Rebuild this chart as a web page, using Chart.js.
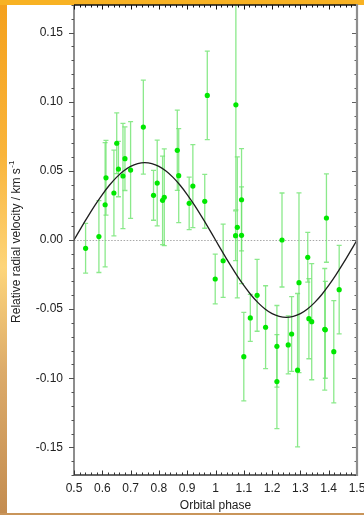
<!DOCTYPE html>
<html>
<head>
<meta charset="utf-8">
<script src="https://cdn.jsdelivr.net/npm/chart.js@4.4.1/dist/chart.umd.min.js"></script>
<style>
  html, body { margin: 0; padding: 0; background: #fff; }
  #wrap { position: relative; width: 364px; height: 515px; overflow: hidden;
          background: linear-gradient(to bottom, #f4a01c 0%, #f9b43a 30%, #fdd57a 52%, #dcab6a 72%, #c38c50 100%); }
  #topband { position: absolute; left: 0; top: 0; width: 364px; height: 5px; background: #f8b223; }
  #panel { position: absolute; left: 7px; top: 5px; width: 357px; height: 508px; background: #fff; }
  #botband { position: absolute; left: 0; top: 513px; width: 364px; height: 2px; background: #c9955a; }
  #chart { position: absolute; left: 0; top: 0; }
</style>
</head>
<body>
<div id="wrap">
  <div id="topband"></div>
  <div id="panel"></div>
  <div id="botband"></div>
  <canvas id="chart" width="364" height="515"></canvas>
</div>
<script>
// ---------- data ----------
const phase = [0.541, 0.588, 0.610, 0.613, 0.641, 0.651, 0.657, 0.673, 0.680, 0.700,
               0.745, 0.781, 0.794, 0.813, 0.819, 0.865, 0.870, 0.907, 0.920, 0.962,
               0.971, 0.999, 1.027, 1.071, 1.072, 1.077, 1.092, 1.092, 1.100, 1.123,
               1.147, 1.177, 1.217, 1.217, 1.235, 1.257, 1.269, 1.290, 1.295, 1.326,
               1.330, 1.340, 1.386, 1.388, 1.392, 1.418, 1.437];
const rv    = [-0.006, 0.0025, 0.0255, 0.045, 0.034, 0.070, 0.0513, 0.0463, 0.0588, 0.0506,
               0.0817, 0.0323, 0.0412, 0.0287, 0.0309, 0.0649, 0.0465, 0.0265, 0.039, 0.028,
               0.1046, -0.0282, -0.015, 0.0031, 0.0978, 0.0092, 0.0291, 0.0034, -0.0844, -0.0564,
               -0.040, -0.0631, -0.0769, -0.1024, 0.000, -0.0759, -0.068, -0.0942, -0.0309, -0.0125,
               -0.0569, -0.0591, -0.0646, -0.065, 0.0159, -0.0808, -0.0359];
const rvErr = [0.018, 0.026, 0.045, 0.027, 0.031, 0.022, 0.020, 0.038, 0.023, 0.035,
               0.034, 0.018, 0.031, 0.032, 0.035, 0.029, 0.034, 0.019, 0.030, 0.0195,
               0.032, 0.018, 0.0265, 0.018, 0.076, 0.051, 0.037, 0.035, 0.032, 0.017,
               0.026, 0.030, 0.0295, 0.034, 0.034, 0.021, 0.027, 0.0555, 0.065, 0.018,
               0.029, 0.042, 0.044, 0.035, 0.032, 0.037, 0.032];

// model orbit curve, read every 0.025 in phase
const curvePhase = [0.5, 0.525, 0.55, 0.575, 0.6, 0.625, 0.65, 0.675, 0.7, 0.725,
                    0.75, 0.775, 0.8, 0.825, 0.85, 0.875, 0.9, 0.925, 0.95, 0.975,
                    1.0, 1.025, 1.05, 1.075, 1.1, 1.125, 1.15, 1.175, 1.2, 1.225,
                    1.25, 1.275, 1.3, 1.325, 1.35, 1.375, 1.4, 1.425, 1.45, 1.475, 1.5];
const curveRv    = [0, 0.0088, 0.0173, 0.0254, 0.0329, 0.0396, 0.0453, 0.0499, 0.0533, 0.0553,
                    0.0560, 0.0553, 0.0533, 0.0499, 0.0453, 0.0396, 0.0329, 0.0254, 0.0173, 0.0088,
                    0, -0.0088, -0.0173, -0.0254, -0.0329, -0.0396, -0.0453, -0.0499, -0.0533, -0.0553,
                    -0.0560, -0.0553, -0.0533, -0.0499, -0.0453, -0.0396, -0.0329, -0.0254, -0.0173, -0.0088, 0];

// ---------- ticks ----------
const xTicks = [0.5, 0.6, 0.7, 0.8, 0.9, 1.0, 1.1, 1.2, 1.3, 1.4, 1.5];
const yTicks = [-0.15, -0.10, -0.05, 0, 0.05, 0.10, 0.15];
const xMinorStep = 0.02;
const yMinorStep = 0.01;

const FONT = 'Liberation Sans, Arial, sans-serif';

// ---------- plugin: zero line + error bars (under the marks) ----------
const errorBars = {
    id: 'errorBars',
    beforeDatasetsDraw(chart) {
        const c = chart.ctx, xs = chart.scales.x, ys = chart.scales.y, a = chart.chartArea;
        c.save();
        c.beginPath();
        c.rect(a.left, a.top, a.right - a.left, a.bottom - a.top);
        c.clip();
        // dotted zero line
        c.strokeStyle = '#a8a8a8';
        c.lineWidth = 1;
        c.setLineDash([1.5, 1.6]);
        const y0 = Math.round(ys.getPixelForValue(0)) + 0.5;
        c.beginPath(); c.moveTo(a.left, y0); c.lineTo(a.right, y0); c.stroke();
        c.setLineDash([]);
        // error bars
        c.strokeStyle = 'rgba(110,228,110,0.8)';
        c.lineWidth = 1.3;
        for (let i = 0; i < phase.length; i++) {
            const px = xs.getPixelForValue(phase[i]);
            const yt = ys.getPixelForValue(rv[i] + rvErr[i]);
            const yb = ys.getPixelForValue(rv[i] - rvErr[i]);
            c.beginPath();
            c.moveTo(px, yt); c.lineTo(px, yb);
            c.moveTo(px - 2.5, yt); c.lineTo(px + 2.5, yt);
            c.moveTo(px - 2.5, yb); c.lineTo(px + 2.5, yb);
            c.stroke();
        }
        c.restore();
    }
};

// ---------- plugin: frame, ticks, y title ----------
const frame = {
    id: 'frame',
    afterDraw(chart) {
        const c = chart.ctx, xs = chart.scales.x, ys = chart.scales.y, a = chart.chartArea;
        c.save();
        // left axis + outside ticks, right axis inside ticks
        c.strokeStyle = '#505050';
        c.lineWidth = 1.3;
        c.beginPath(); c.moveTo(a.left, a.top); c.lineTo(a.left, a.bottom); c.stroke();
        c.lineWidth = 1;
        for (let v = -0.17; v <= 0.1701; v += yMinorStep) {
            const y = Math.round(ys.getPixelForValue(v)) + 0.5;
            const major = Math.abs(Math.round(v * 100) % 5) === 0;
            c.strokeStyle = '#505050';
            c.beginPath(); c.moveTo(a.left, y); c.lineTo(a.left - (major ? 5 : 2.5), y); c.stroke();
            c.strokeStyle = '#606060';
            c.beginPath(); c.moveTo(a.right, y); c.lineTo(a.right - (major ? 5 : 2.5), y); c.stroke();
        }
        // bottom + top axes, inside ticks
        c.strokeStyle = '#333';
        c.lineWidth = 1.3;
        c.beginPath(); c.moveTo(a.left, a.bottom); c.lineTo(a.right, a.bottom); c.stroke();
        c.strokeStyle = '#111';
        c.beginPath(); c.moveTo(a.left, a.top); c.lineTo(a.right, a.top); c.stroke();
        c.lineWidth = 1;
        for (let v = 0.5; v <= 1.5001; v += xMinorStep) {
            const x = Math.round(xs.getPixelForValue(v)) + 0.5;
            const major = Math.abs(Math.round(v * 100) % 10) === 0;
            const len = major ? 4.5 : 2.5;
            c.strokeStyle = '#333';
            c.beginPath(); c.moveTo(x, a.bottom); c.lineTo(x, a.bottom - len); c.stroke();
            c.strokeStyle = '#111';
            c.beginPath(); c.moveTo(x, a.top); c.lineTo(x, a.top + len); c.stroke();
        }
        // right axis: thick grey
        c.strokeStyle = '#8e8e8e';
        c.lineWidth = 2.2;
        c.beginPath(); c.moveTo(a.right, a.top - 1); c.lineTo(a.right, a.bottom + 1); c.stroke();

        // y title with superscript
        const main = 'Relative radial velocity / km s';
        const sup = '-1';
        c.fillStyle = '#222';
        c.translate(17, (a.top + a.bottom) / 2 + 2);
        c.rotate(-Math.PI / 2);
        c.font = '12px ' + FONT;
        const w1 = c.measureText(main).width;
        c.font = '8px ' + FONT;
        const w2 = c.measureText(sup).width;
        const x0 = -(w1 + w2) / 2;
        c.textBaseline = 'middle';
        c.textAlign = 'left';
        c.font = '12px ' + FONT;
        c.fillText(main, x0, 0);
        c.font = '8px ' + FONT;
        c.fillText(sup, x0 + w1 + 0.5, -5);
        c.restore();
    }
};

// ---------- chart ----------
const ctx = document.getElementById('chart').getContext('2d');

const chart = new Chart(ctx, {
    type: 'scatter',
    data: {
        datasets: [
            {
                label: 'Orbit',
                type: 'line',
                data: curvePhase.map((x, i) => ({ x, y: curveRv[i] })),
                borderColor: '#1e1e1e',
                borderWidth: 1.3,
                pointRadius: 0,
                tension: 0.2,
                fill: false,
                order: 1
            },
            {
                label: 'RV',
                data: phase.map((x, i) => ({ x, y: rv[i] })),
                backgroundColor: '#00e800',
                borderWidth: 0,
                pointRadius: 2.6,
                order: 0
            }
        ]
    },
    options: {
        responsive: false,
        animation: false,
        devicePixelRatio: 1,
        layout: { padding: { left: 7, top: 5, right: 7, bottom: 2 } },
        plugins: { legend: { display: false }, tooltip: { enabled: false } },
        scales: {
            x: {
                type: 'linear',
                min: 0.5, max: 1.5,
                afterBuildTicks: s => { s.ticks = xTicks.map(v => ({ value: v })); },
                afterFit: s => { s.height = 38; s.paddingLeft = 0; s.paddingRight = 0; },
                ticks: {
                    autoSkip: false, maxRotation: 0, padding: 6,
                    color: '#222', font: { family: FONT, size: 12 },
                    callback: v => String(+v.toFixed(1))
                },
                grid: { display: false, drawTicks: false },
                border: { display: false },
                title: {
                    display: true, text: 'Orbital phase', color: '#222',
                    font: { family: FONT, size: 12 }, padding: { top: 3, bottom: 0 }
                }
            },
            y: {
                type: 'linear',
                min: -0.17, max: 0.17,
                afterBuildTicks: s => { s.ticks = yTicks.map(v => ({ value: v })); },
                afterFit: s => { s.width = 67; s.paddingTop = 0; s.paddingBottom = 0; },
                ticks: {
                    autoSkip: false, padding: 11,
                    color: '#222', font: { family: FONT, size: 12 },
                    callback: v => v.toFixed(2)
                },
                grid: { display: false, drawTicks: false },
                border: { display: false }
            }
        }
    },
    plugins: [errorBars, frame]
});
</script>
</body>
</html>
